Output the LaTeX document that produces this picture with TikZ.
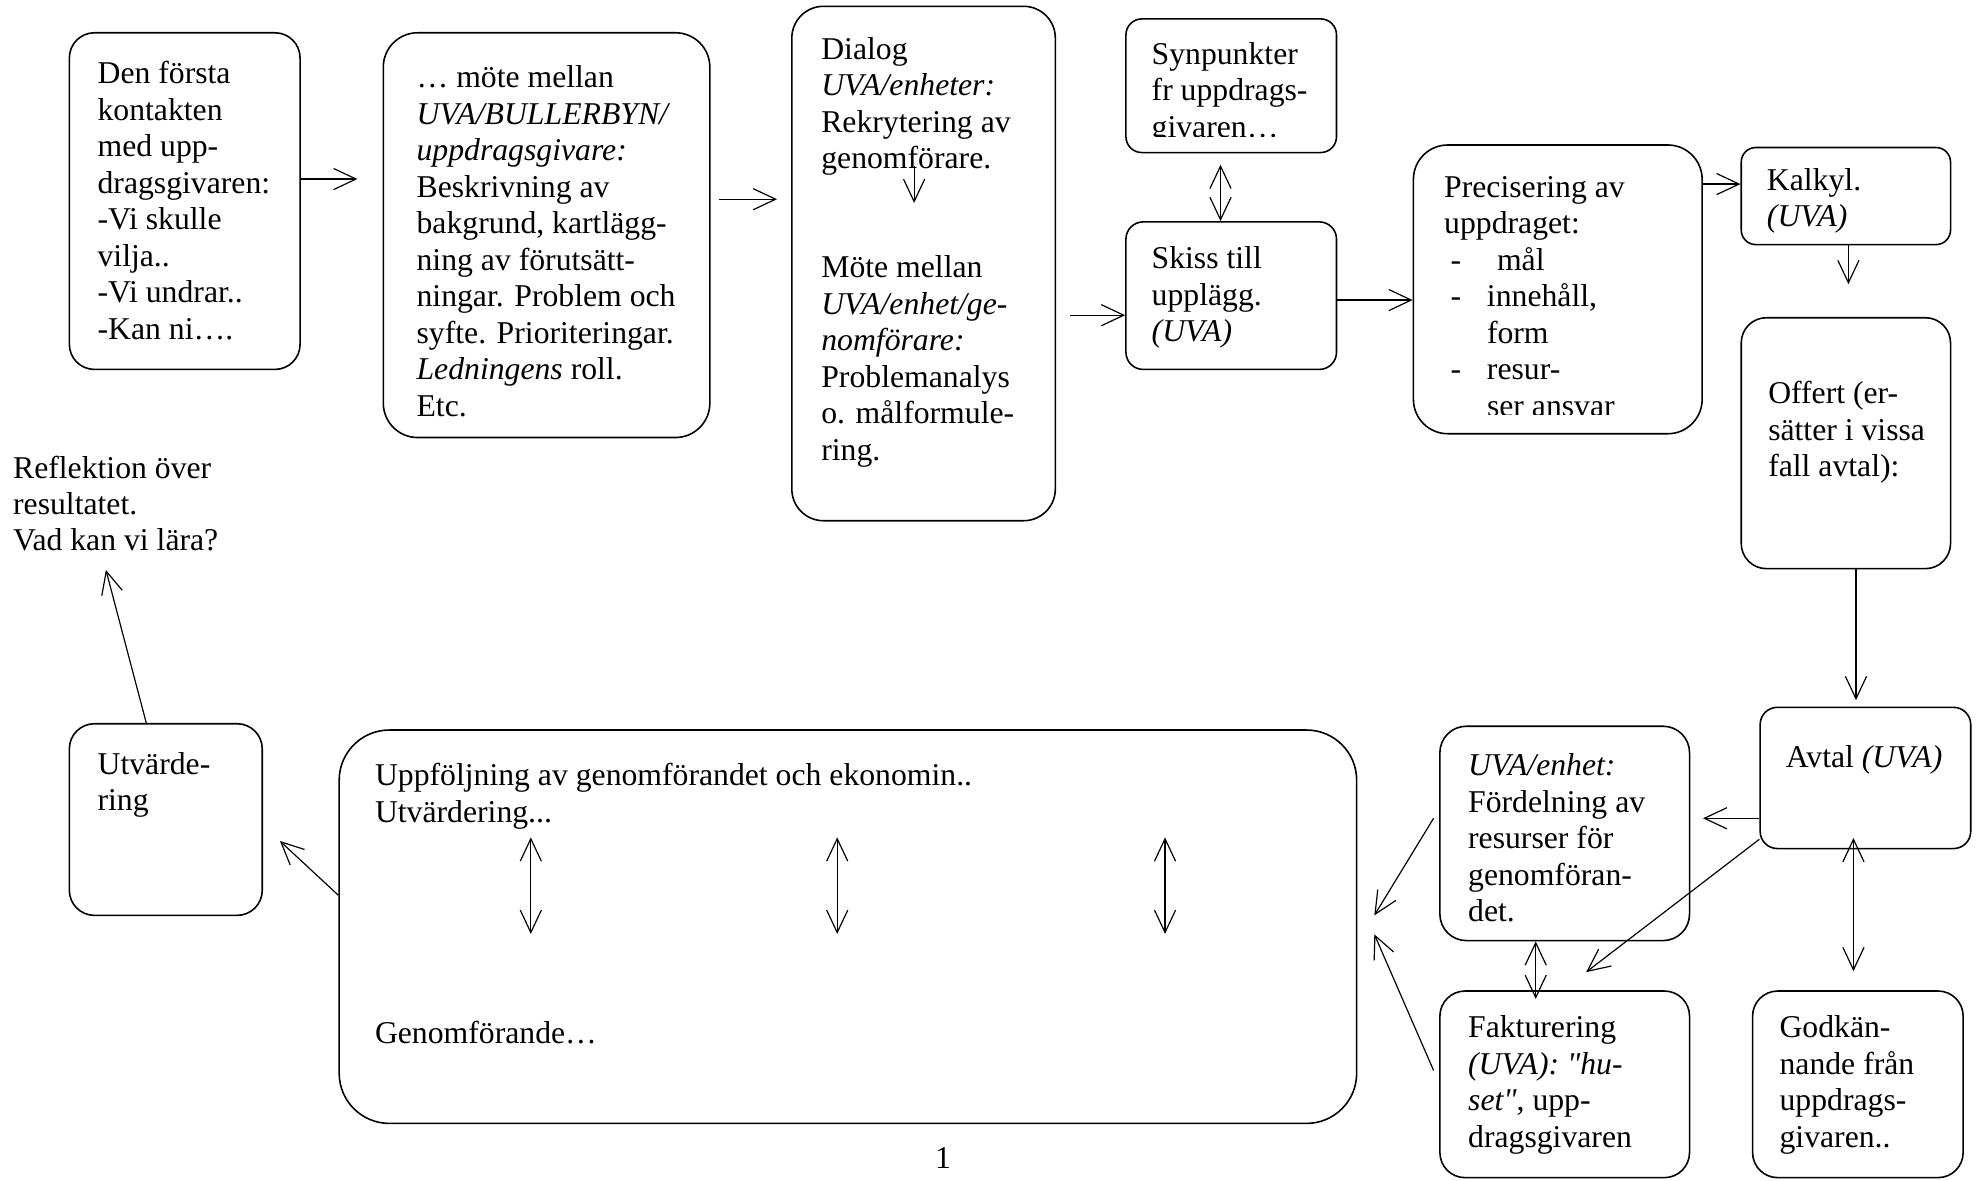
\documentclass[tikz,border=0pt]{standalone}
\usepackage{fontspec}
\setmainfont{Liberation Serif}[Ligatures=TeXOff]
\usetikzlibrary{arrows.meta,positioning,fit}

\newcommand{\listdash}{\hspace*{2.4pt}\makebox[13.8pt][l]{-}}

\begin{document}
\begin{tikzpicture}[
    x=0.01677cm, y=-0.01677cm,
    every node/.style={font=\fontsize{12}{13.8}\selectfont},
    box/.style={draw, line width=0.6pt, inner sep=0pt, rounded corners=#1},
    box/.default=9.5pt,
    txt/.style={anchor=base west, align=left, inner sep=0pt},
    arr/.style={-{Straight Barb[length=8.5pt,width=8pt]}, line width=0.45pt},
    dbl/.style={{Straight Barb[length=8.5pt,width=8pt]}-{Straight Barb[length=8.5pt,width=8pt]}, line width=0.45pt}
]
\useasboundingbox (0,0) rectangle (1568,936);

% Boxes
\node[box=9.5pt, fit={(55,26) (238,293)}] (first) {};
\node[box=13pt, fit={(304,26) (563,347)}] (meet) {};
\node[box=12pt, fit={(628,5) (837,413)}] (dialog) {};
\node[box=6pt, fit={(893,15) (1060,121)}] (syn) {};
\node[box=6.5pt, fit={(893,176) (1060,293)}] (skiss) {};
\node[box=13pt, fit={(1121,115) (1350,344)}] (prec) {};
\node[box=5.5pt, fit={(1381,117) (1547,194)}] (kalk) {};
\node[box=9.5pt, fit={(1381,252) (1547,451)}] (offert) {};
\node[box=6.5pt, fit={(1396,561) (1563,673)}] (avtal) {};
\node[box=10pt, fit={(1142,576) (1340,746)}] (ford) {};
\node[box=9.5pt, fit={(1142,786) (1340,934)}] (fakt) {};
\node[box=9.5pt, fit={(1390,786) (1557,934)}] (godk) {};
\node[box=19pt, fit={(269,579) (1076,891)}] (big) {};
\node[box=9.5pt, fit={(55,574) (208,726)}] (utv) {};

% Texts (placed at the baseline of their last line)
\node[txt] (firsttext) at (77,269) {Den första\\kontakten\\med upp-\\dragsgivaren:\\-Vi skulle\\vilja..\\-Vi undrar..\\-Kan ni….};
\node[txt] (meettext) at (330,330) {… möte mellan\\\textit{UVA/BULLERBYN/}\\\textit{uppdragsgivare:}\\Beskrivning av\\bakgrund, kartlägg-\\ning av förutsätt-\\ningar. Problem och\\syfte. Prioriteringar.\\\textit{Ledningens} roll.\\Etc.};
\node[txt] (dialogtext) at (651,365) {Dialog\\\textit{UVA/enheter:}\\Rekrytering av\\genomförare.\\[27.6pt]Möte mellan\\\textit{UVA/enhet/ge-}\\\textit{nomförare:}\\Problemanalys\\o. målformule-\\ring.};
\begin{scope}
    \clip (893,15) rectangle (1060,108);
    \node[txt] (syntext) at (913,109) {Synpunkter\\fr uppdrags-\\givaren…};
\end{scope}
\node[txt] (skisstext) at (913,271) {Skiss till\\upplägg.\\\textit{(UVA)}};
\begin{scope}
    \clip (1121,115) rectangle (1350,329);
    \node[txt] (prectext) at (1145,330) {Precisering av\\uppdraget:\\\listdash\hspace*{3.8pt}mål\\\listdash innehåll,\\\hspace*{16.2pt}form\\\listdash resur-\\\hspace*{16.2pt}ser ansvar};
\end{scope}
\node[txt] (kalktext) at (1401,180) {Kalkyl.\\\textit{(UVA)}};
\node[txt] (offerttext) at (1402,378) {Offert (er-\\sätter i vissa\\fall avtal):};
\node[txt] (avtaltext) at (1416,609) {Avtal \textit{(UVA)}};
\node[txt] (fordtext) at (1164,731) {\textit{UVA/enhet:}\\Fördelning av\\resurser för\\genomföran-\\det.};
\node[txt] (fakttext) at (1164,910) {Fakturering\\\textit{(UVA): "hu-}\\\textit{set"}, upp-\\dragsgivaren};
\node[txt] (godktext) at (1411,910) {Godkän-\\nande från\\uppdrags-\\givaren..};
\node[txt] (uppf) at (297,652) {Uppföljning av genomförandet och ekonomin..\\Utvärdering...};
\node[txt] (impl) at (297,828) {Genomförande…};
\node[txt] (utvtext) at (77,643) {Utvärde-\\ring};
\node[txt] (refl) at (10,437) {Reflektion över\\resultatet.\\Vad kan vi lära?};
\node[anchor=base, inner sep=0pt] (pagenum) at (748,927) {1};

% Levels and free ends of the connectors
\coordinate (lvA) at (0,142);
\coordinate (lvB) at (0,158);
\coordinate (lvC) at (0,250);
\coordinate (lvD) at (0,238);
\coordinate (lvE) at (0,146);
\coordinate (lvF) at (0,649);
\coordinate (clA) at (968,0);
\coordinate (clB) at (1466,0);
\coordinate (clC) at (1472,0);
\coordinate (clD) at (1470,0);
\coordinate (clE) at (1218,0);
\coordinate (clF) at (116,0);
\coordinate (dlTop) at (725,132);
\coordinate (dlBot) at (725,161);
\coordinate (fkIn) at (1258,771);
\coordinate (fdOut) at (1137,649);
\coordinate (bgInA) at (1090,726);
\coordinate (fkOut) at (1137,849);
\coordinate (bgInB) at (1090,741);
\coordinate (utIn) at (222,667);
\coordinate (rfIn) at (84,452);

% Top row
\draw[arr, shorten >=9.5pt] (first.east |- lvA) -- (meet.west |- lvA);
\draw[arr, shorten <=3.3pt, shorten >=5.3pt] (meet.east |- lvB) -- (dialog.west |- lvB);
\draw[arr] (dlTop) -- (dlBot);
\draw[arr, shorten <=5.3pt] (dialog.east |- lvC) -- (skiss.west |- lvC);
\draw[dbl, shorten <=4.3pt] (syn.south -| clA) -- (skiss.north -| clA);
\draw[arr] (skiss.east |- lvD) -- (prec.west |- lvD);
\draw[arr] (prec.east |- lvE) -- (kalk.west |- lvE);

% Right column
\draw[arr, shorten >=12.4pt] (kalk.south -| clB) -- (offert.north -| clB);
\draw[arr, shorten >=2.4pt] (offert.south -| clC) -- (avtal.north -| clC);
\draw[arr, shorten >=4.8pt] (avtal.west |- lvF) -- (ford.east |- lvF);
\draw[arr] ([yshift=3.8pt]avtal.south west) -- (fkIn);
\draw[dbl, shorten <=-4.3pt, shorten >=7.2pt] (avtal.south -| clD) -- (godk.north -| clD);
\draw[dbl, shorten >=-3.3pt] (ford.south -| clE) -- (fakt.north -| clE);

% Bottom row
\draw[arr] (fdOut) -- (bgInA);
\draw[arr] (fkOut) -- (bgInB);
\foreach \x in {421,664,924} {
    \draw[dbl, shorten <=3pt, shorten >=33pt] (uppf.south -| \x,0) -- (impl.north -| \x,0);
}
\draw[arr] ([yshift=11.9pt]big.west) -- (utIn);
\draw[arr] (utv.north -| clF) -- (rfIn);

\end{tikzpicture}
\end{document}
